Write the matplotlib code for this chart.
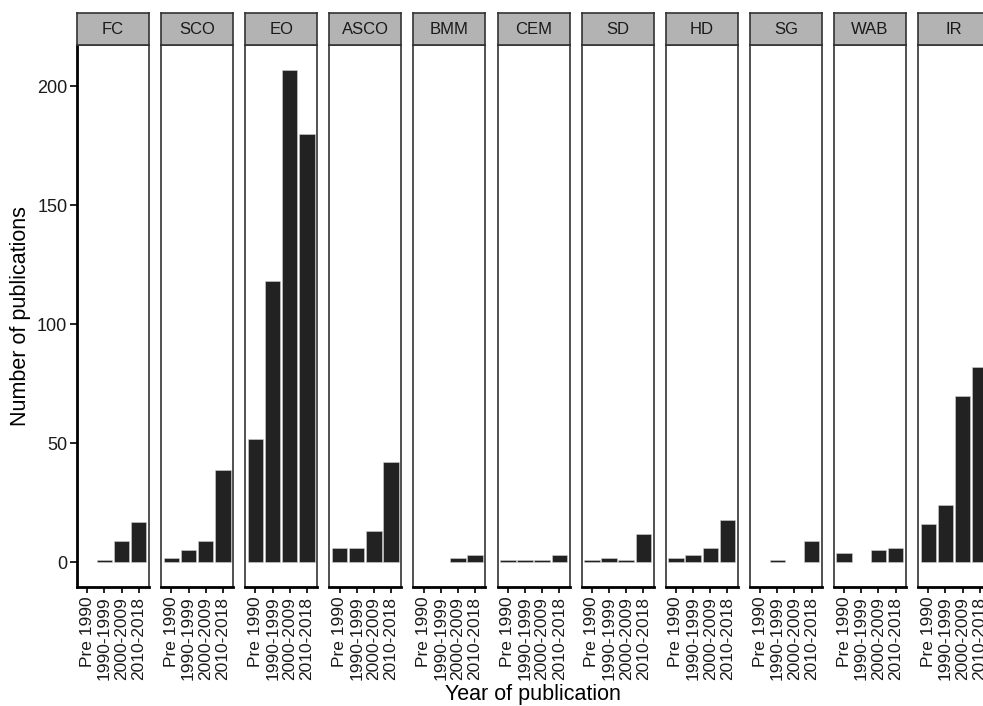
import numpy as np
import matplotlib.pyplot as plt

plt.rcParams['font.family'] = ['Liberation Sans', 'DejaVu Sans']

# publication counts per review theme and period (nan = no bar)
periods = ["Pre 1990", "1990-1999", "2000-2009", "2010-2018"]
groups = ["FC", "SCO", "EO", "ASCO", "BMM", "CEM", "SD", "HD", "SG", "WAB", "IR"]
fc   = [np.nan, 1, 9, 17]
sco  = [2, 5, 9, 39]
eo   = [52, 118, 207, 180]
asco = [6, 6, 13, 42]
bmm  = [np.nan, np.nan, 2, 3]
cem  = [1, 1, 1, 3]
sd   = [1, 2, 1, 12]
hd   = [2, 3, 6, 18]
sg   = [np.nan, 1, np.nan, 9]
wab  = [4, np.nan, 5, 6]
ir   = [16, 24, 70, 82]
counts = [fc, sco, eo, asco, bmm, cem, sd, hd, sg, wab, ir]
yticks = [0, 50, 100, 150, 200]

W, H = 983, 706
fig = plt.figure(figsize=(W / 100, H / 100), dpi=100)

# panel geometry in pixels
left0, step, pw = 77, 84.1, 72
top, bottom, strip_top = 45, 587, 13

ymax = max(np.nanmax(c) for c in counts)
pad = 0.05 * ymax
x = np.arange(1, len(periods) + 1)

for i, (g, vals) in enumerate(zip(groups, counts)):
    x0 = left0 + i * step
    ax = fig.add_axes([x0 / W, (H - bottom) / H, pw / W, (bottom - top) / H])
    ax.bar(x, vals, width=0.9, color='#222222', edgecolor='#d0d0d0', linewidth=0.4)
    ax.set_xlim(0.4, len(periods) + 0.6)
    ax.set_ylim(-pad, ymax + pad)
    ax.set_xticks(x)
    ax.set_xticklabels(periods, rotation=90, fontsize=12.5, color='#1a1a1a')
    for s in ax.spines.values():
        s.set_color('#333333')
        s.set_linewidth(1.2)
    ax.spines['bottom'].set_color('black')
    ax.spines['bottom'].set_linewidth(2)
    ax.tick_params(axis='x', length=4, width=1.4, pad=3, color='#222222')
    if i == 0:
        ax.spines['left'].set_color('black')
        ax.spines['left'].set_linewidth(2)
        ax.set_yticks(yticks)
        ax.tick_params(axis='y', length=5, width=1.4, pad=2, labelsize=13,
                       labelcolor='#1a1a1a', color='#222222')
    else:
        ax.set_yticks([])

    # facet strip
    st = fig.add_axes([x0 / W, (H - top) / H, pw / W, (top - strip_top) / H])
    st.set_facecolor('#b3b3b3')
    st.set_xticks([])
    st.set_yticks([])
    for s in st.spines.values():
        s.set_color('#333333')
        s.set_linewidth(1.2)
    st.text(0.5, 0.5, g, ha='center', va='center', fontsize=12, color='#1a1a1a',
            transform=st.transAxes)

fig.text(533 / W, 1 - 700 / H, "Year of publication", ha='center', va='baseline', fontsize=15.5)
fig.text(21 / W, 1 - 316 / H, "Number of publications", ha='center', va='center',
         rotation=90, fontsize=15.5)

fig.savefig('out.png', dpi=100)
